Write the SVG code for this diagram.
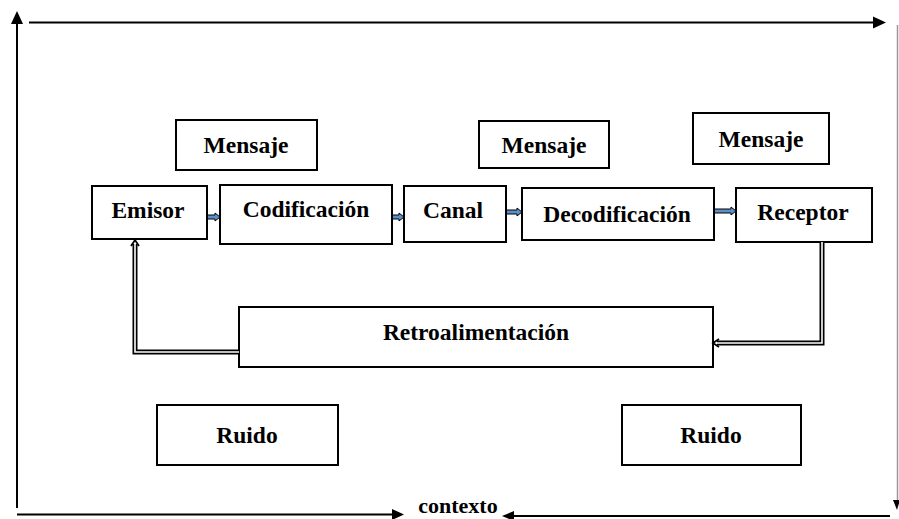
<svg xmlns="http://www.w3.org/2000/svg" width="899" height="519" viewBox="0 0 899 519">
<style>
.box{fill:#fff;stroke:#000;stroke-width:2}
.t{font-family:"Liberation Serif","Times New Roman",serif;font-weight:bold;font-size:23.5px;fill:#000;text-anchor:middle}
.frame{stroke:#000;stroke-width:2;fill:none}
.dblo{fill:none;stroke:#000;stroke-width:5}
.dbli{fill:none;stroke:#fff;stroke-width:1.6}
.blue{fill:#5b8fc9;stroke:#000;stroke-width:1}
</style>
<rect width="899" height="519" fill="#fff"/>
<g id="frame">
<line class="frame" x1="17" y1="508" x2="17" y2="24"/>
<polygon points="17,11 11,24 23,24" fill="#000"/>
<line class="frame" x1="29" y1="22.5" x2="875" y2="22.5"/>
<polygon points="886,22.5 873,16.5 873,28.5" fill="#000"/>
<line x1="897.5" y1="25" x2="897.5" y2="502" stroke="#999" stroke-width="1.5"/>
<polygon points="893,500 900,500 897,510" fill="#000"/>
<line class="frame" x1="17" y1="514.5" x2="393" y2="514.5"/>
<polygon points="404,514.5 392,509 392,520" fill="#000"/>
<line class="frame" x1="512" y1="516" x2="890" y2="516"/>
<polygon points="502,516 514,511 514,521" fill="#000"/>
<text class="t" x="458" y="513" id="contexto" style="font-size:22px">contexto</text>
</g>
<g id="mensaje1"><rect class="box" x="176" y="120" width="141" height="50"/><text class="t" x="246" y="153">Mensaje</text></g>
<g id="mensaje2"><rect class="box" x="479" y="121" width="130" height="47"/><text class="t" x="544" y="153">Mensaje</text></g>
<g id="mensaje3"><rect class="box" x="693" y="113" width="136" height="51"/><text class="t" x="761" y="147">Mensaje</text></g>
<g id="emisor"><rect class="box" x="92" y="186" width="115" height="53"/><text class="t" x="148" y="218">Emisor</text></g>
<g id="codificacion"><rect class="box" x="220" y="185" width="172" height="59"/><text class="t" x="306" y="217">Codificación</text></g>
<g id="canal"><rect class="box" x="404" y="186" width="102" height="56"/><text class="t" x="453" y="218">Canal</text></g>
<g id="decodificacion"><rect class="box" x="522" y="188" width="192" height="52"/><text class="t" x="617" y="222">Decodificación</text></g>
<g id="receptor"><rect class="box" x="736" y="188" width="136" height="54"/><text class="t" x="803" y="220">Receptor</text></g>
<g id="retroalimentacion"><rect class="box" x="239" y="307" width="474" height="60"/><text class="t" x="476" y="340">Retroalimentación</text></g>
<g id="ruido1"><rect class="box" x="157" y="405" width="181" height="60"/><text class="t" x="247" y="443">Ruido</text></g>
<g id="ruido2"><rect class="box" x="622" y="405" width="179" height="60"/><text class="t" x="711" y="443">Ruido</text></g>
<g id="connectors">
<path class="blue" d="M207.5,215 H215 V213 L220,217 L215,221 V219 H207.5 Z"/>
<path class="blue" d="M392.5,215 H399 V213 L404,217 L399,221 V219 H392.5 Z"/>
<path class="blue" d="M506.5,210 H517 V208 L522,212 L517,216 V214 H506.5 Z"/>
<path class="blue" d="M714.5,209 H731 V207 L736,211 L731,215 V213 H714.5 Z"/>
<path class="dblo" d="M239,352 H135 V244"/>
<path class="dbli" d="M239,352 H135 V244"/>
<path d="M131,246 L135,240 L139,246" fill="none" stroke="#000" stroke-width="1.8"/>
<path class="dblo" d="M822,242 V343 H717"/>
<path class="dbli" d="M822,242 V343 H717"/>
<path d="M719,339 L713,343 L719,347" fill="none" stroke="#000" stroke-width="1.8"/>
</g>
</svg>
